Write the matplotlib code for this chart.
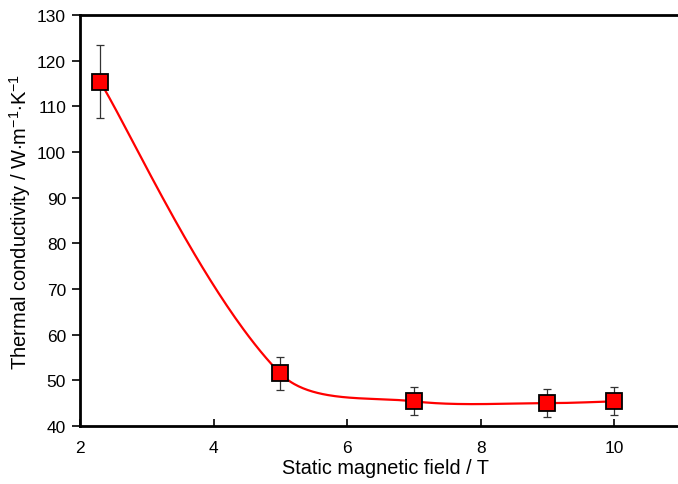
import numpy as np
import matplotlib
matplotlib.use("Agg")
import matplotlib.pyplot as plt

plt.rcParams['font.family'] = ['Liberation Sans', 'DejaVu Sans']
plt.rcParams['mathtext.fontset'] = 'custom'
plt.rcParams['mathtext.rm'] = 'Liberation Sans'
plt.rcParams['mathtext.it'] = 'Liberation Sans'
plt.rcParams['mathtext.bf'] = 'Liberation Sans'

field = [2.3, 5.0, 7.0, 9.0, 10.0]
conductivity = [115.4, 51.5, 45.4, 45.0, 45.4]
error = [8.0, 3.6, 3.1, 3.1, 3.1]
xticks = [2, 4, 6, 8, 10]
yticks = [40, 50, 60, 70, 80, 90, 100, 110, 120, 130]

W, H = 678, 485
fig = plt.figure(figsize=(W / 100, H / 100), dpi=100)
ax = fig.add_axes([80 / W, (H - 427) / H, 1 - 80 / W + 0.02, (427 - 16) / H])
ax.set_xlim(2, 2 + (678 - 80) / 67.5 + 0.3)
ax.set_ylim(40, 130)

# Smoothed line (Bezier through points, length-weighted tangents, display space)
fig.canvas.draw()
pts = ax.transData.transform(np.column_stack([field, conductivity]))
n = len(pts)
before = [np.zeros(2) for _ in range(n)]
after = [np.zeros(2) for _ in range(n)]
for i in range(n):
    if i == 0:
        after[i] = (pts[1] - pts[0]) / 6.0
        continue
    if i == n - 1:
        before[i] = (pts[i] - pts[i - 1]) / 6.0
        continue
    d0 = np.linalg.norm(pts[i] - pts[i - 1])
    d1 = np.linalg.norm(pts[i + 1] - pts[i])
    tang = (pts[i + 1] - pts[i - 1]) / 3.0
    before[i] = tang * d0 / (d0 + d1)
    after[i] = tang * d1 / (d0 + d1)
curve = []
t = np.linspace(0, 1, 80)[:, None]
for i in range(n - 1):
    p1, p2 = pts[i], pts[i + 1]
    c1 = p1 + after[i]
    c2 = p2 - before[i + 1]
    seg = ((1 - t) ** 3) * p1 + 3 * ((1 - t) ** 2) * t * c1 + 3 * (1 - t) * t ** 2 * c2 + t ** 3 * p2
    curve.append(seg if i == 0 else seg[1:])
curve = np.vstack(curve)
curve_data = ax.transData.inverted().transform(curve)
ax.plot(curve_data[:, 0], curve_data[:, 1], color='#ff0000', lw=1.6, zorder=2)

ax.errorbar(field, conductivity, yerr=error, fmt='none', ecolor='#333333',
            elinewidth=0.9, capsize=2.6, capthick=0.9, zorder=3)
ax.plot(field, conductivity, 's', markersize=11.5, markerfacecolor='#ff0000',
        markeredgecolor='black', markeredgewidth=1.3, linestyle='none', zorder=4)

ax.set_xticks(xticks)
ax.set_yticks(yticks)
ax.tick_params(axis='x', direction='in', length=5, width=1.2, labelsize=12.5, pad=10)
ax.tick_params(axis='y', direction='out', length=6, width=1.2, labelsize=12.5, pad=4)
for s in ['left', 'bottom', 'top']:
    ax.spines[s].set_linewidth(2.0)
ax.spines['right'].set_visible(False)

ax.set_xlabel('Static magnetic field / T', fontsize=14.3, labelpad=2)
ax.set_ylabel(r'Thermal conductivity / W$\cdot$m$^{-1}$$\cdot$K$^{-1}$', fontsize=14.5, labelpad=3)

fig.savefig('out.png', dpi=100)
